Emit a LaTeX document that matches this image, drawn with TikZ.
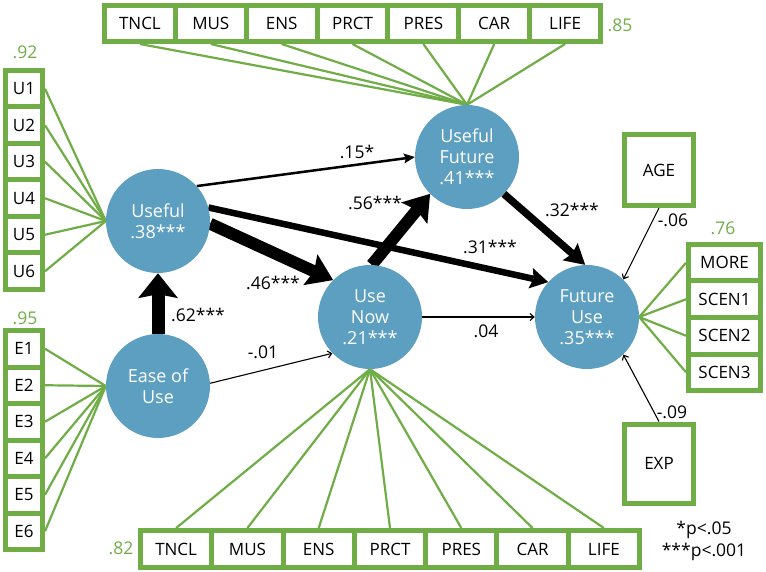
\documentclass[tikz,border=0pt]{standalone}
\usepackage{fontspec}
\setmainfont{Open Sans}
\usetikzlibrary{arrows.meta,backgrounds}
\definecolor{gr}{RGB}{112,173,71}
\definecolor{bl}{RGB}{93,159,192}
\begin{document}
\begin{tikzpicture}[x=1pt,y=-1pt,
 lv/.style={circle, fill=bl, minimum size=104pt, inner sep=0pt, text=white, align=center, font=\fontsize{18}{21}\selectfont},
 cell/.style={fill=white, inner sep=0pt, outer sep=5pt, font=\fontsize{17}{20}\selectfont},
 ld/.style={draw=gr, line width=2.2pt},
 lab/.style={font=\fontsize{17.5}{20}\selectfont, inner sep=0pt},
 glab/.style={lab, text=gr},
 sq/.style={draw=gr, line width=5pt, fill=white, inner sep=0pt, font=\fontsize{17}{20}\selectfont},
 thin/.style={draw, line width=1.1pt, -{Straight Barb[length=4pt,width=7pt]}},
]
\useasboundingbox (0,0) rectangle (766,572);

% latent variables
\node[lv] (useful) at (158,221) {Useful\\.38***};
\node[lv] (ease) at (158,386) {Ease of\\Use};
\node[lv] (un) at (370,317) {Use\\Now\\.21***};
\node[lv] (uf) at (467,157) {Useful\\Future\\.41***};
\node[lv] (fu) at (587,317) {Future\\Use\\.35***};

% indicator groups
\fill[gr] (3,68) rectangle (45,292);
\foreach \i in {0,...,5}{
  \node[cell, minimum width=32pt, minimum height=31.5pt] (u\i) at (24,88.75+36.5*\i) {U\the\numexpr\i+1\relax};
}
\fill[gr] (3,328) rectangle (45,552);
\foreach \i in {0,...,5}{
  \node[cell, minimum width=32pt, minimum height=31.5pt] (e\i) at (24,348.75+36.5*\i) {E\the\numexpr\i+1\relax};
}
\fill[gr] (102,3) rectangle (603,44);
\foreach \t [count=\i from 0] in {TNCL,MUS,ENS,PRCT,PRES,CAR,LIFE}{
  \node[cell, minimum width=65.86pt, minimum height=31pt] (t\i) at (139.93+70.857*\i,23.5) {\t};
}
\fill[gr] (138,528) rectangle (642,570);
\foreach \t [count=\i from 0] in {TNCL,MUS,ENS,PRCT,PRES,CAR,LIFE}{
  \node[cell, minimum width=66.29pt, minimum height=32pt] (b\i) at (176.14+71.286*\i,549) {\t};
}
\fill[gr] (686,242) rectangle (763,393);
\foreach \t [count=\i from 0] in {MORE,SCEN1,SCEN2,SCEN3}{
  \node[cell, minimum width=67pt, minimum height=31.5pt] (m\i) at (724.5,262.75+36.5*\i) {\t};
}
\node[sq, minimum width=69pt, minimum height=71pt] (age) at (659,170) {AGE};
\node[sq, minimum width=69pt, minimum height=79pt] (exp) at (659,463.5) {EXP};

% reliabilities
\node[glab] (r85) at (620,25) {.85};
\node[glab] (r92) at (25,52) {.92};
\node[glab] (r95) at (25,318) {.95};
\node[glab] (r76) at (723,228) {.76};
\node[glab] (r82) at (121,548) {.82};

\begin{pgfonlayer}{background}
\foreach \i in {0,...,5}{
  \draw[ld] (u\i.east) -- (useful.180);
  \draw[ld] (e\i.east) -- (ease.180);
}
\foreach \i in {0,...,6}{
  \draw[ld] (t\i.south) -- (uf.90);
  \draw[ld] (b\i.north) -- (un.270);
}
\foreach \i in {0,...,3}{
  \draw[ld] (m\i.west) -- (fu.0);
}
% structural paths
\draw[line width=13pt, -{Stealth[length=25pt,width=40pt,inset=4pt,line width=0pt]}] (ease.90) -- (useful.270);
\draw[line width=12pt, -{Stealth[length=25pt,width=34pt,inset=4pt,line width=0pt]}] (useful.-3) -- (un.135);
\draw[line width=12pt, -{Stealth[length=25pt,width=34pt,inset=4pt,line width=0pt]}] (un.88) -- (uf.225);
\draw[line width=7.5pt, -{Stealth[length=20pt,width=23pt,inset=3pt,line width=0pt]}] (uf.-45) -- (fu.92);
\draw[line width=6.5pt, -{Stealth[length=18pt,width=21pt,inset=3pt,line width=0pt]}] (useful.15) -- (fu.138);
\draw[line width=2.5pt, -{Stealth[length=11pt,width=10pt,inset=2pt,line width=0pt]}] (useful.42) -- (uf.180);
\draw[thin] (ease.3) -- (un.224);
\draw[thin] (un.0) -- (fu.180);
\draw[thin] (age.south) -- (fu.46);
\draw[thin] (exp.north) -- (fu.-46);
\end{pgfonlayer}

% path labels
\node[lab] (l15) at (357,152) {.15*};
\node[lab] (l31) at (490,247) {.31***};
\node[lab] (l46) at (273,283) {.46***};
\node[lab] (l56) at (375,203) {.56***};
\node[lab] (l32) at (572,210) {.32***};
\node[lab] (l62) at (198,315) {.62***};
\node[lab] (l01) at (263,352) {-.01};
\node[lab] (l04) at (486,331) {.04};
\node[lab] (l06) at (673,220) {-.06};
\node[lab] (l09) at (672,412) {-.09};
\node[lab, align=center, font=\fontsize{17.5}{22}\selectfont] (legend) at (704,541) {*p<.05\\***p<.001};
\end{tikzpicture}
\end{document}
